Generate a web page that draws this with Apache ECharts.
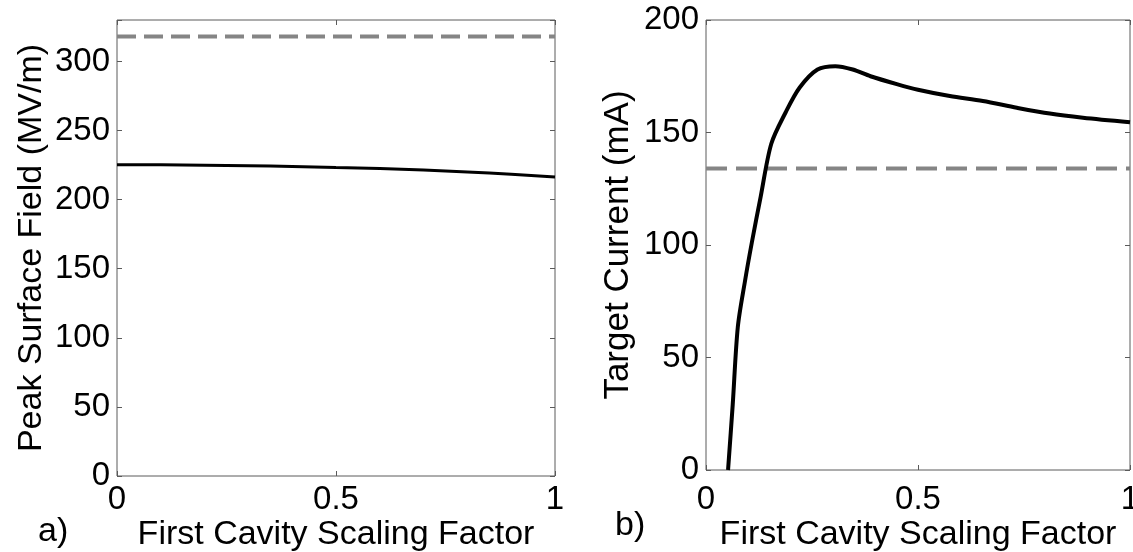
<!DOCTYPE html>
<html>
<head>
<meta charset="utf-8">
<script src="https://cdn.jsdelivr.net/npm/echarts@6/dist/echarts.min.js"></script>
<style>
  html, body { margin: 0; padding: 0; background: #fff; }
  #chart { width: 1133px; height: 552px; }
</style>
</head>
<body>
<div id="chart"></div>
<script>
// Panel a) peak surface field vs first-cavity scaling factor
const fieldScale = [0, 0.1, 0.2, 0.3, 0.4, 0.5, 0.6, 0.7, 0.8, 0.9, 1.0];
const fieldValues = [225.3, 225.2, 224.9, 224.5, 224.0, 223.3, 222.5, 221.4, 220.0, 218.4, 216.4];
const fieldLimit = 318;

// Panel b) target current vs first-cavity scaling factor
const currentScale = [0.052, 0.063, 0.075, 0.092, 0.108, 0.129, 0.154, 0.188, 0.221, 0.263, 0.305, 0.346, 0.388, 0.45, 0.5, 0.575, 0.653, 0.733, 0.811, 0.889, 1.0];
const currentValues = [0, 29, 63.5, 84, 101, 121.5, 145, 159, 170, 178, 179.5, 178, 175, 171.5, 169, 166.2, 164, 161, 158.4, 156.6, 154.6];
const currentTarget = 134;

const xTicks = [0, 0.5, 1];
const fieldTicks = [0, 50, 100, 150, 200, 250, 300];
const currentTicks = [0, 50, 100, 150, 200];

const FONT = '"Liberation Sans", Arial, sans-serif';
const AXIS_GREY = '#5a5a5a';
const DASH_GREY = '#858585';

const pairs = (xs, ys) => xs.map((x, i) => [x, ys[i]]);
const flat = (xs, v) => [[xs[0], v], [xs[xs.length - 1], v]];

const tickStyle = { show: true, inside: true, length: 5, lineStyle: { color: AXIS_GREY, width: 1 } };
const hiddenLine = { show: false, onZero: false };

function xAxes(gridIndex, labelMargin, nameGap) {
  const base = {
    type: 'value', gridIndex, min: 0, max: 1, interval: 0.5,
    axisLine: hiddenLine, splitLine: { show: false }, axisTick: tickStyle
  };
  return [
    Object.assign({}, base, {
      position: 'bottom',
      name: 'First Cavity Scaling Factor',
      nameLocation: 'middle',
      nameGap,
      nameMoveOverlap: false,
      nameTextStyle: { fontFamily: FONT, fontSize: 34, color: '#000' },
      axisLabel: {
        show: true, margin: labelMargin, fontFamily: FONT, fontSize: 33, color: '#000',
        formatter: v => (xTicks.includes(v) ? String(v) : '')
      }
    }),
    Object.assign({}, base, { position: 'top', axisLabel: { show: false } })
  ];
}

function yAxes(gridIndex, max, ticks, title, gap, nameSize) {
  const base = {
    type: 'value', gridIndex, min: 0, max, interval: 50,
    axisLine: hiddenLine, splitLine: { show: false }, axisTick: tickStyle
  };
  return [
    Object.assign({}, base, {
      position: 'left',
      name: title,
      nameLocation: 'middle',
      nameGap: gap,
      nameMoveOverlap: false,
      nameTextStyle: { fontFamily: FONT, fontSize: nameSize, color: '#000' },
      axisLabel: {
        show: true, margin: 7, fontFamily: FONT, fontSize: 33, color: '#000',
        formatter: v => (ticks.includes(v) ? String(v) : '')
      }
    }),
    Object.assign({}, base, { position: 'right', axisLabel: { show: false } })
  ];
}

const chart = echarts.init(document.getElementById('chart'), null, { renderer: 'canvas' });

const gridBase = {
  top: 20, show: true, borderColor: AXIS_GREY, borderWidth: 1,
  backgroundColor: 'transparent', containLabel: false, outerBoundsMode: 'none'
};

chart.setOption({
  backgroundColor: '#fff',
  animation: false,
  grid: [
    Object.assign({}, gridBase, { left: 117, width: 438, height: 456 }),
    Object.assign({}, gridBase, { left: 706, width: 424, height: 450 })
  ],
  xAxis: [...xAxes(0, 7, 42), ...xAxes(1, 13, 48)],
  yAxis: [
    ...yAxes(0, 330, fieldTicks, 'Peak Surface Field (MV/m)', 68, 34),
    ...yAxes(1, 200, currentTicks, 'Target Current (mA)', 70, 35)
  ],
  series: [
    {
      type: 'line', xAxisIndex: 0, yAxisIndex: 0,
      data: flat(fieldScale, fieldLimit),
      showSymbol: false, silent: true,
      lineStyle: { color: DASH_GREY, width: 4, type: [19, 8] }
    },
    {
      type: 'line', xAxisIndex: 0, yAxisIndex: 0,
      data: pairs(fieldScale, fieldValues),
      showSymbol: false, smooth: true, silent: true,
      lineStyle: { color: '#000', width: 3 }
    },
    {
      type: 'line', xAxisIndex: 2, yAxisIndex: 2,
      data: flat([0, 1], currentTarget),
      showSymbol: false, silent: true,
      lineStyle: { color: DASH_GREY, width: 4, type: [21, 9] }
    },
    {
      type: 'line', xAxisIndex: 2, yAxisIndex: 2,
      data: pairs(currentScale, currentValues),
      showSymbol: false, smooth: 0.3, silent: true,
      lineStyle: { color: '#000', width: 4 }
    }
  ],
  graphic: [
    { type: 'text', left: 38, top: 515, style: { text: 'a)', font: '34px ' + FONT, fill: '#000' } },
    { type: 'text', left: 615, top: 509, style: { text: 'b)', font: '34px ' + FONT, fill: '#000' } }
  ]
});
</script>
</body>
</html>
